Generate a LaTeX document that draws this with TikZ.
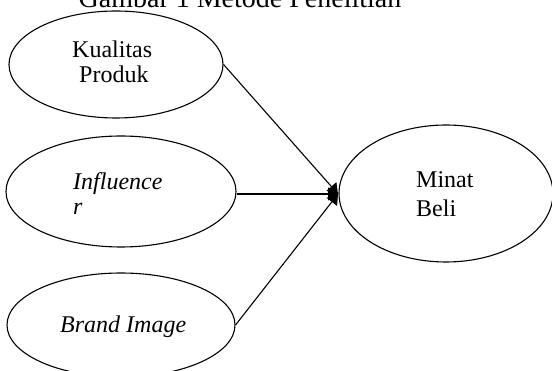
\documentclass[tikz,border=0pt]{standalone}
\usepackage{fontspec}
\setmainfont{Liberation Serif}
\usetikzlibrary{shapes.geometric,arrows.meta}
\begin{document}
\begin{tikzpicture}[x=1pt,y=-1pt,
  oval/.style={draw,ellipse,line width=1.1pt,inner sep=0pt},
  lbl/.style={anchor=base west,inner sep=0pt,font=\fontsize{24}{27}\selectfont},
  conn/.style={line width=1.1pt,-{Triangle[length=10pt,width=13pt]}}]
\useasboundingbox (0,0) rectangle (552,371);
\node[anchor=base,inner sep=0pt,font=\fontsize{28}{32}\selectfont] (title) at (240,7.5) {Gambar 1 Metode Penelitian};
\node[oval,minimum width=214pt,minimum height=107pt] (kp) at (116,64.5) {};
\node[oval,minimum width=230pt,minimum height=111pt] (inf) at (121,191.5) {};
\node[oval,minimum width=228pt,minimum height=104pt] (bi) at (121,325) {};
\node[oval,minimum width=214pt,minimum height=137pt] (mb) at (446,193.5) {};
\node[lbl] (t1) at (72,58) {Kualitas};
\node[lbl] (t2) at (79,83) {Produk};
\node[lbl] (t3) at (73,190) {\itshape Influence};
\node[lbl] (t4) at (73,215) {\itshape r};
\node[lbl] (t5) at (60,333) {\itshape Brand Image};
\node[lbl] (t6) at (416,188) {Minat};
\node[lbl] (t7) at (416,217) {Beli};
\coordinate (tip) at (338,194);
\draw[conn] (kp.east) -- (tip);
\draw[conn] (inf.east |- tip) -- (tip);
\draw[conn] (bi.east) -- (tip);
\end{tikzpicture}
\end{document}
